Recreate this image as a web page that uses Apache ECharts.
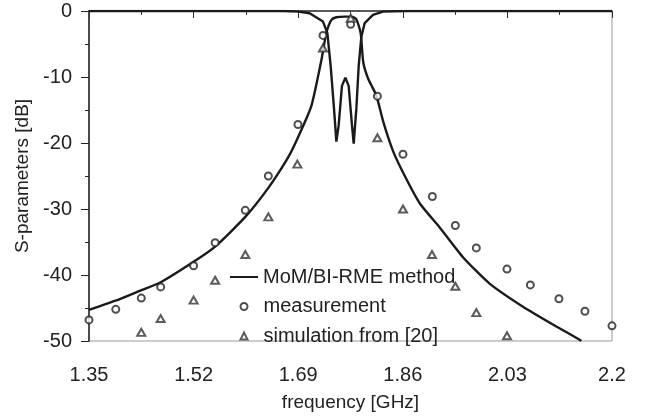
<!DOCTYPE html>
<html>
<head>
<meta charset="utf-8">
<script src="https://cdn.jsdelivr.net/npm/echarts@6/dist/echarts.min.js"></script>
<style>
  html, body { margin: 0; padding: 0; background: #fff; }
  #chart { width: 647px; height: 417px; }
</style>
</head>
<body>
<div id="chart"></div>
<script>
// x axis starts at 1.35 GHz, ticks every 0.17 GHz
var F0 = 1.35;
var xTickLabels = ['1.35', '1.52', '1.69', '1.86', '2.03', '2.2'];

// MoM/BI-RME: transmission curve
var s21Freq = [1.35, 1.393, 1.435, 1.4665, 1.52, 1.555, 1.604, 1.6415, 1.671, 1.684, 1.711, 1.728, 1.7303, 1.7358, 1.744, 1.752, 1.7655, 1.7764, 1.7845, 1.7915, 1.7958, 1.8039, 1.817, 1.8283, 1.8445, 1.866, 1.888, 1.92, 1.9578, 2.0011, 2.0553, 2.1095, 2.1474, 2.15];
var s21Db = [-45.3, -43.9, -42.3, -41.1, -38.0, -35.7, -31.2, -26.8, -22.6, -20.3, -14.5, -7.3, -6.1, -3.3, -1.35, -0.95, -0.85, -0.85, -1.25, -3.35, -7.8, -10.3, -12.8, -16.8, -21.3, -25.5, -29.2, -32.8, -37.3, -41.3, -44.8, -47.8, -49.8, -50];

// MoM/BI-RME: reflection curve
var s11Freq = [1.35, 1.665, 1.69, 1.7086, 1.7303, 1.7374, 1.7428, 1.7482, 1.752, 1.7558, 1.7611, 1.7667, 1.772, 1.7774, 1.7802, 1.7845, 1.7883, 1.7927, 1.798, 1.8115, 1.8278, 1.866, 2.2];
var s11Db = [0, 0, -0.1, -0.35, -1.6, -3.35, -8.35, -14.8, -19.8, -17.3, -11.35, -10.1, -11.35, -17.3, -20.1, -14.8, -8.35, -3.85, -1.85, -0.6, -0.1, 0, 0];

// measurement
var measFreq = [1.35, 1.3935, 1.435, 1.4665, 1.52, 1.555, 1.604, 1.6415, 1.6896, 1.7303, 1.7753, 1.8187, 1.8603, 1.908, 1.9454, 1.9795, 2.0293, 2.0673, 2.1138, 2.156, 2.2];
var measDb = [-46.8, -45.2, -43.5, -41.8, -38.6, -35.1, -30.2, -25.0, -17.2, -3.7, -2.0, -12.9, -21.7, -28.1, -32.5, -35.9, -39.1, -41.5, -43.6, -45.5, -47.7];

// simulation from [20]
var simFreq = [1.435, 1.4665, 1.52, 1.555, 1.604, 1.6415, 1.6886, 1.7303, 1.7753, 1.8187, 1.8603, 1.9074, 1.9454, 1.9795, 2.0293];
var simDb = [-48.7, -46.6, -43.8, -40.8, -36.9, -31.2, -23.2, -5.6, -1.1, -19.2, -30.0, -36.9, -41.7, -45.7, -49.2];

function pairs(fs, ds) {
    var out = [];
    for (var i = 0; i < fs.length; i++) {
        out.push([fs[i] - F0, ds[i]]);
    }
    return out;
}

var FONT = '"Liberation Sans", Arial, sans-serif';
var INK = '#1a1a1a';
var legendText = { fontFamily: FONT, fontSize: 20, lineHeight: 22, color: '#222' };

var chart = echarts.init(document.getElementById('chart'));

chart.setOption({
    backgroundColor: '#fff',
    animation: false,
    grid: {
        left: 89, right: 35, top: 11, bottom: 73,
        show: true, borderColor: '#999', borderWidth: 1
    },
    // line entry, then the two marker entries with a small icon box
    legend: [
        {
            left: 224, top: 261,
            itemWidth: 28, itemHeight: 8,
            textStyle: legendText,
            data: [{ name: 'MoM/BI-RME method', itemStyle: { opacity: 0 } }]
        },
        {
            orient: 'vertical',
            left: 234.5, top: 290.5,
            itemWidth: 7, itemHeight: 7,
            itemGap: 7.5,
            textStyle: { fontFamily: FONT, fontSize: 20, lineHeight: 22, color: '#222', padding: [0, 0, 0, 11] },
            data: [{ name: 'measurement' }, { name: 'simulation from [20]' }]
        }
    ],
    xAxis: {
        type: 'value',
        min: 0, max: 0.85, interval: 0.17,
        name: 'frequency [GHz]',
        nameLocation: 'middle',
        nameGap: 52,
        nameTextStyle: { fontFamily: FONT, fontSize: 19, color: '#222' },
        axisLine: { lineStyle: { color: '#333', width: 1.5 } },
        axisTick: { show: true, length: 7, lineStyle: { color: '#333' } },
        minorTick: { show: true, splitNumber: 2, length: 4, lineStyle: { color: '#333' } },
        splitLine: { show: false },
        axisLabel: {
            margin: 24,
            fontFamily: FONT, fontSize: 20, color: '#222',
            formatter: function (v) { return xTickLabels[Math.round(v / 0.17)]; }
        }
    },
    yAxis: {
        type: 'value',
        min: -50, max: 0, interval: 10,
        name: 'S-parameters [dB]',
        nameLocation: 'middle',
        nameGap: 49,
        nameTextStyle: { fontFamily: FONT, fontSize: 19, color: '#222' },
        axisLine: { show: true, lineStyle: { color: '#222', width: 1.5 } },
        axisTick: { show: true, length: 8, lineStyle: { color: '#222' } },
        minorTick: { show: true, splitNumber: 2, length: 4, lineStyle: { color: '#222' } },
        splitLine: { show: false },
        axisLabel: { margin: 17, fontFamily: FONT, fontSize: 20, color: '#222' }
    },
    series: [
        {
            name: 'MoM/BI-RME method',
            type: 'line',
            data: pairs(s21Freq, s21Db),
            symbol: 'none',
            smooth: 0.2,
            lineStyle: { color: INK, width: 2.4 },
            itemStyle: { color: INK },
            z: 3
        },
        {
            name: 'MoM/BI-RME method',
            type: 'line',
            data: pairs(s11Freq, s11Db),
            symbol: 'none',
            lineStyle: { color: INK, width: 2.4 },
            itemStyle: { color: INK },
            z: 3
        },
        {
            name: 'measurement',
            type: 'scatter',
            data: pairs(measFreq, measDb),
            symbol: 'emptyCircle',
            symbolSize: 7,
            itemStyle: { color: '#222', borderWidth: 1 },
            z: 4
        },
        {
            name: 'simulation from [20]',
            type: 'scatter',
            data: pairs(simFreq, simDb),
            symbol: 'emptyTriangle',
            symbolSize: [8, 7],
            itemStyle: { color: '#333', borderWidth: 0.8 },
            z: 4
        }
    ]
});
</script>
</body>
</html>
